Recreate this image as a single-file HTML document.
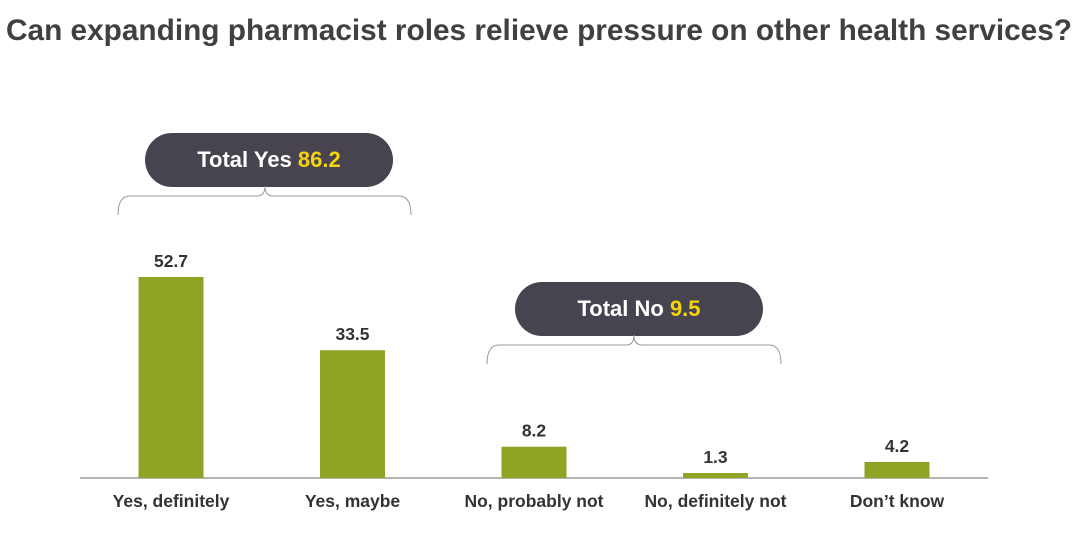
<!DOCTYPE html>
<html><head><meta charset="utf-8"><style>
body{margin:0;background:#fff;font-family:"Liberation Sans",Arial,sans-serif}
svg text{font-family:"Liberation Sans",Arial,sans-serif}
</style></head><body>
<svg id="chart" width="1080" height="540" viewBox="0 0 1080 540">
<text x="6" y="40" font-size="29.5" font-weight="bold" fill="#404040" textLength="1066" lengthAdjust="spacingAndGlyphs">Can expanding pharmacist roles relieve pressure on other health services?</text>
<line x1="80" y1="478" x2="988" y2="478" stroke="#9a9a9a" stroke-width="1.5"/>
<g id="bars"></g>
<g>
<rect x="145" y="133" width="248" height="54" rx="27" fill="#48444f"/>
<text x="269" y="167" font-size="22" font-weight="bold" fill="#fff" text-anchor="middle">Total Yes <tspan fill="#f5d40f">86.2</tspan></text>
<path d="M118 215 Q118 196 130 196 L257 196 Q265 196 265 186 Q265 196 273 196 L399 196 Q411 196 411 215" fill="none" stroke="#999" stroke-width="1"/>
</g>
<g>
<rect x="515" y="282" width="248" height="54" rx="27" fill="#48444f"/>
<text x="639" y="316" font-size="22" font-weight="bold" fill="#fff" text-anchor="middle">Total No <tspan fill="#f5d40f">9.5</tspan></text>
<path d="M487 364 Q487 345 499 345 L626 345 Q634 345 634 335 Q634 345 642 345 L769 345 Q781 345 781 364" fill="none" stroke="#999" stroke-width="1"/>
</g>
</svg>
<script>
const categories=["Yes, definitely","Yes, maybe","No, probably not","No, definitely not","Don't know"];
const values=[52.7,33.5,8.2,1.3,4.2];
const labels=["52.7","33.5","8.2","1.3","4.2"];
const base=478, k=3.814, x0=171, step=181.5, bw=65;
const y=v=>base-v*k, x=i=>x0+i*step;
const g=document.getElementById('bars');
const ns="http://www.w3.org/2000/svg";
values.forEach((v,i)=>{
 const r=document.createElementNS(ns,'rect');
 r.setAttribute('x',x(i)-bw/2);r.setAttribute('y',y(v));r.setAttribute('width',bw);r.setAttribute('height',base-y(v));r.setAttribute('fill','#8ea424');
 
 
 g.appendChild(r);
 const t=document.createElementNS(ns,'text');
 t.setAttribute('x',x(i));t.setAttribute('y',y(v)-10);t.setAttribute('text-anchor','middle');t.setAttribute('font-size','17.5');t.setAttribute('font-weight','bold');t.setAttribute('fill','#333');
 t.textContent=labels[i];
 
 
 g.appendChild(t);
 const c=document.createElementNS(ns,'text');
 c.setAttribute('x',x(i));c.setAttribute('y',507);c.setAttribute('text-anchor','middle');c.setAttribute('font-size','17.5');c.setAttribute('font-weight','bold');c.setAttribute('fill','#333');
 c.textContent=categories[i].replace("'","’");
 
 
 g.appendChild(c);
});
</script>
</body></html>
